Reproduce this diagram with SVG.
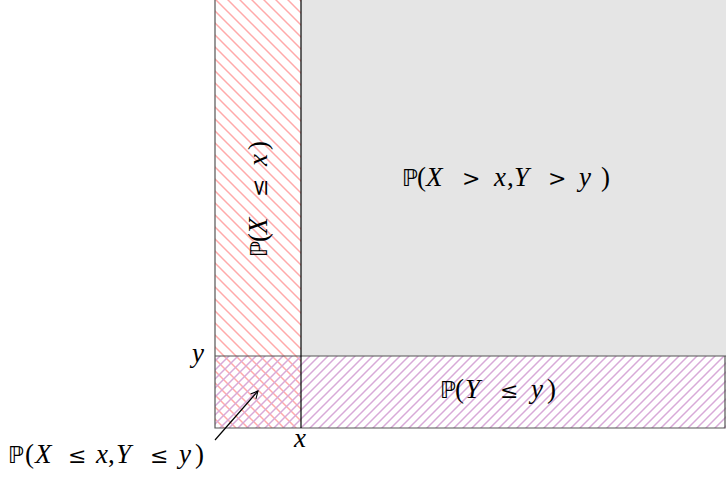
<svg xmlns="http://www.w3.org/2000/svg" width="726" height="477" viewBox="0 0 726 477">
<style>
.t{font-family:"Liberation Serif","DejaVu Serif",serif;font-size:27px;fill:#000}
.i{font-style:italic}
.bb{font-family:"DejaVu Sans",sans-serif;font-size:23px}
.r{font-family:"DejaVu Serif",serif;font-size:22px}
.edge{stroke:#555;stroke-width:1.2;fill:none}
</style>
<defs>
<pattern id="pink" patternUnits="userSpaceOnUse" width="12" height="12">
<path d="M-6,6 L6,18 M0,0 L12,12 M6,-6 L18,6" stroke="#ffaaaa" stroke-width="1.5"/>
</pattern>
<pattern id="purple" patternUnits="userSpaceOnUse" width="9" height="9">
<path d="M-4.5,4.5 L4.5,-4.5 M0,9 L9,0 M4.5,13.5 L13.5,4.5" stroke="#d8aad8" stroke-width="1.5"/>
</pattern>
<marker id="arr" viewBox="0 0 10 10" refX="9" refY="5" markerWidth="9" markerHeight="9" orient="auto" markerUnits="userSpaceOnUse">
<path d="M1,1 L9,5 L1,9" fill="none" stroke="#000" stroke-width="1.2"/>
</marker>
</defs>
<g id="gray-region">
<rect x="301" y="0" width="425" height="356" fill="#e5e5e5"/>
<text class="t" y="186"><tspan class="bb" x="402">ℙ</tspan><tspan x="417">(</tspan><tspan class="i" x="426">X</tspan><tspan class="r" x="462">&gt;</tspan><tspan class="i" x="494">x</tspan><tspan x="507">,</tspan><tspan class="i" x="514">Y</tspan><tspan class="r" x="548">&gt;</tspan><tspan class="i" x="579">y</tspan><tspan x="601">)</tspan></text>
</g>
<g id="left-strip">
<rect x="215" y="0" width="86" height="428" fill="url(#pink)"/>
<text class="t" transform="translate(267,257) rotate(-90)" y="0"><tspan class="bb" x="0">ℙ</tspan><tspan x="15">(</tspan><tspan class="i" x="23">X</tspan><tspan class="r" x="60">≤</tspan><tspan class="i" x="91">x</tspan><tspan x="107">)</tspan></text>
</g>
<g id="bottom-strip">
<rect x="215" y="356" width="511" height="72" fill="url(#purple)"/>
<text class="t" y="398"><tspan class="bb" x="440">ℙ</tspan><tspan x="455">(</tspan><tspan class="i" x="465">Y</tspan><tspan class="r" x="500">≤</tspan><tspan class="i" x="531">y</tspan><tspan x="547">)</tspan></text>
</g>
<g id="borders">
<path class="edge" d="M215,0 V428 H725 V356 M215,356 H726"/>
<path d="M301,0 V428" stroke="#000" stroke-width="1.2"/>
</g>
<g id="axis-labels">
<text class="t i" x="198" y="362" text-anchor="middle">y</text>
<text class="t i" x="300" y="447" text-anchor="middle">x</text>
</g>
<g id="connectors">
<line x1="215" y1="440" x2="258" y2="391" stroke="#000" stroke-width="1.2" marker-end="url(#arr)"/>
</g>
<g id="corner-label">
<text class="t" y="463"><tspan class="bb" x="8">ℙ</tspan><tspan x="25">(</tspan><tspan class="i" x="35">X</tspan><tspan class="r" x="68">≤</tspan><tspan class="i" x="96">x</tspan><tspan x="108">,</tspan><tspan class="i" x="116">Y</tspan><tspan class="r" x="150">≤</tspan><tspan class="i" x="179">y</tspan><tspan x="195">)</tspan></text>
</g>
</svg>
